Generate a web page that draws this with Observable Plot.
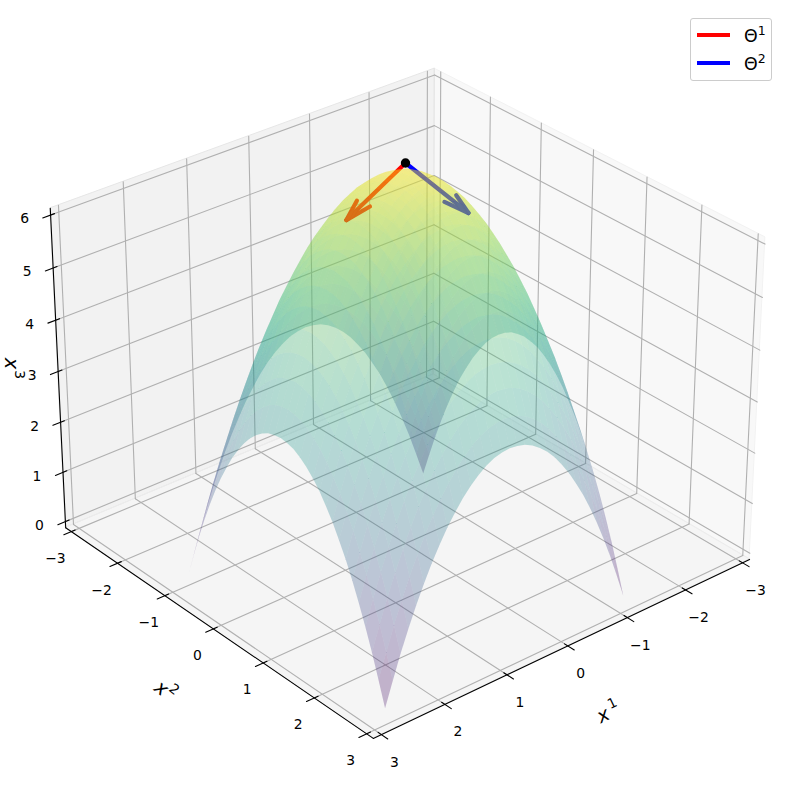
<!DOCTYPE html>
<html>
<head>
<meta charset="utf-8">
<style>
html,body{margin:0;padding:0;background:#fff;}
#wrap{position:relative;width:790px;height:790px;overflow:hidden;}
#legend{position:absolute;left:690px;top:18px;width:82px;height:63px;box-sizing:border-box;background:rgba(255,255,255,.8);border:1px solid #ccc;border-radius:3px;font:17.4px "DejaVu Sans";color:#000;}
#legend .k{position:absolute;left:6px;width:33px;height:4px;}
#legend .t{position:absolute;left:53px;line-height:20px;}
#legend sup{font-size:12.5px;line-height:0;vertical-align:7px;}
</style>
<script src="https://cdn.jsdelivr.net/npm/d3@7"></script>
<script src="https://cdn.jsdelivr.net/npm/@observablehq/plot@0.6"></script>
</head>
<body>
<div id="wrap">
<div id="legend">
<div class="k" style="top:14px;background:#f00"></div><div class="t" style="top:7px">Θ<sup>1</sup></div>
<div class="k" style="top:42px;background:#00f"></div><div class="t" style="top:35px">Θ<sup>2</sup></div>
</div>
</div>
<script>
// Axis ticks
const x1Ticks = [-3,-2,-1,0,1,2,3];
const x2Ticks = [-3,-2,-1,0,1,2,3];
const x3Ticks = [0,1,2,3,4,5,6];
// Surface samples: positions along |x1| (rows) and |x2| (columns), mirrored across both axes
const gridSteps = [0,0.125,0.25,0.375,0.5,0.625,0.75,0.875,1,1.125,1.25,1.375,1.5,1.625,1.75,1.875,2];
const surfaceHeights = [
 [7.00,6.98,6.94,6.86,6.75,6.61,6.44,6.23,6.00,5.73,5.44,5.11,4.75,4.36,3.94,3.48,3.00],
 [6.98,6.96,6.92,6.84,6.73,6.59,6.42,6.21,5.98,5.71,5.42,5.09,4.73,4.34,3.92,3.46,2.98],
 [6.94,6.92,6.88,6.80,6.69,6.55,6.38,6.17,5.94,5.67,5.38,5.05,4.69,4.30,3.88,3.42,2.94],
 [6.86,6.84,6.80,6.72,6.61,6.47,6.30,6.09,5.86,5.59,5.30,4.97,4.61,4.22,3.80,3.34,2.86],
 [6.75,6.73,6.69,6.61,6.50,6.36,6.19,5.98,5.75,5.48,5.19,4.86,4.50,4.11,3.69,3.23,2.75],
 [6.61,6.59,6.55,6.47,6.36,6.22,6.05,5.84,5.61,5.34,5.05,4.72,4.36,3.97,3.55,3.09,2.61],
 [6.44,6.42,6.38,6.30,6.19,6.05,5.88,5.67,5.44,5.17,4.88,4.55,4.19,3.80,3.38,2.92,2.44],
 [6.23,6.21,6.17,6.09,5.98,5.84,5.67,5.46,5.23,4.96,4.67,4.34,3.98,3.59,3.17,2.71,2.23],
 [6.00,5.98,5.94,5.86,5.75,5.61,5.44,5.23,5.00,4.73,4.44,4.11,3.75,3.36,2.94,2.48,2.00],
 [5.73,5.71,5.67,5.59,5.48,5.34,5.17,4.96,4.73,4.46,4.17,3.84,3.48,3.09,2.67,2.21,1.73],
 [5.44,5.42,5.38,5.30,5.19,5.05,4.88,4.67,4.44,4.17,3.88,3.55,3.19,2.80,2.38,1.92,1.44],
 [5.11,5.09,5.05,4.97,4.86,4.72,4.55,4.34,4.11,3.84,3.55,3.22,2.86,2.47,2.05,1.59,1.11],
 [4.75,4.73,4.69,4.61,4.50,4.36,4.19,3.98,3.75,3.48,3.19,2.86,2.50,2.11,1.69,1.23,0.75],
 [4.36,4.34,4.30,4.22,4.11,3.97,3.80,3.59,3.36,3.09,2.80,2.47,2.11,1.72,1.30,0.84,0.36],
 [3.94,3.92,3.88,3.80,3.69,3.55,3.38,3.17,2.94,2.67,2.38,2.05,1.69,1.30,0.88,0.42,-0.06],
 [3.48,3.46,3.42,3.34,3.23,3.09,2.92,2.71,2.48,2.21,1.92,1.59,1.23,0.84,0.42,-0.04,-0.52],
 [3.00,2.98,2.94,2.86,2.75,2.61,2.44,2.23,2.00,1.73,1.44,1.11,0.75,0.36,-0.06,-0.52,-1.00]
];
// Arrows from the marked point
const apex = [0,0,7.23];
const theta1 = [0.58,-0.44,-1.03];
const theta2 = [-0.60,0.49,-0.93];
const arrowHead = 0.3;

// 3D view (azimuth 50, elevation 30)
const lim = 3.125, zLo = -0.125, zHi = 6.125;
const az = 50*Math.PI/180, el = 30*Math.PI/180, dist = 10;
const bx = 1.190, bz = 0.893;
const W = [Math.cos(el)*Math.cos(az), Math.cos(el)*Math.sin(az), Math.sin(el)];
const U = [-Math.sin(az), Math.cos(az), 0];
const V = [W[1]*U[2]-W[2]*U[1], W[2]*U[0]-W[0]*U[2], W[0]*U[1]-W[1]*U[0]];
const dot = (a,b)=>a[0]*b[0]+a[1]*b[1]+a[2]*b[2];
function proj(p){
  const d = [(p[0]/(2*lim))*bx, (p[1]/(2*lim))*bx, ((p[2]-(zLo+zHi)/2)/(zHi-zLo))*bz];
  const k = dist - dot(W,d);
  return {x: dot(U,d)/k, y: dot(V,d)/k, depth: dot(W,d)};
}
let sid = 0;
function seg(a,b){ const s=sid++; return [a,b].map(p=>{const q=proj(p);return {s,x:q.x,y:q.y};}); }

// Panes
function pane(a,b,c,d){ const s=sid++; const A=proj(a),B=proj(b),C=proj(c),D=proj(d);
  return [{s,x1:A.x,y1:A.y,x2:D.x,y2:D.y},{s,x1:B.x,y1:B.y,x2:C.x,y2:C.y}]; }
const paneX = pane([-lim,-lim,zLo],[-lim,lim,zLo],[-lim,lim,zHi],[-lim,-lim,zHi]);
const paneY = pane([-lim,-lim,zLo],[lim,-lim,zLo],[lim,-lim,zHi],[-lim,-lim,zHi]);
const paneZ = pane([-lim,-lim,zLo],[lim,-lim,zLo],[lim,lim,zLo],[-lim,lim,zLo]);

// Grid
const grid = [];
for(const t of x1Ticks){ grid.push(...seg([t,lim,zLo],[t,-lim,zLo]), ...seg([t,-lim,zLo],[t,-lim,zHi])); }
for(const t of x2Ticks){ grid.push(...seg([lim,t,zLo],[-lim,t,zLo]), ...seg([-lim,t,zLo],[-lim,t,zHi])); }
for(const t of x3Ticks){ grid.push(...seg([lim,-lim,t],[-lim,-lim,t]), ...seg([-lim,-lim,t],[-lim,lim,t])); }
// Axis lines and ticks
const axisLines = [
  ...seg([-lim,lim,zLo],[lim,lim,zLo]),
  ...seg([lim,-lim,zLo],[lim,lim,zLo]),
  ...seg([lim,-lim,zLo],[lim,-lim,zHi])
];
const tIn=0.06, tOut=0.12;
for(const t of x1Ticks) axisLines.push(...seg([t,lim-tIn,zLo],[t,lim+tOut,zLo]));
for(const t of x2Ticks) axisLines.push(...seg([lim-tIn,t,zLo],[lim+tOut,t,zLo]));
for(const t of x3Ticks) axisLines.push(...seg([lim-tIn,-lim,t],[lim+tOut,-lim,t]));

const fmt = t => String(t).replace("-","\u2212");
const x1Labels = x1Ticks.map(t=>{const q=proj([t,lim,zLo]);return {x:q.x,y:q.y,t:fmt(t)};});
const x2Labels = x2Ticks.map(t=>{const q=proj([lim,t,zLo]);return {x:q.x,y:q.y,t:fmt(t)};});
const x3Labels = x3Ticks.map(t=>{const q=proj([lim,-lim,t]);return {x:q.x,y:q.y,t:fmt(t)};});

// Surface quads, far to near
const steps = [...gridSteps.slice(1).reverse().map(v=>-v), ...gridSteps];
const mid = gridSteps.length-1;
const zAt = (i,j)=>surfaceHeights[Math.abs(i-mid)][Math.abs(j-mid)];
const quads = [];
for(let i=0;i<steps.length-1;i++)for(let j=0;j<steps.length-1;j++){
  const c=[[i,j],[i+1,j],[i+1,j+1],[i,j+1]].map(([a,b])=>[steps[a],steps[b],zAt(a,b)]);
  const P=c.map(proj);
  quads.push({P,mean:d3.mean(c,p=>p[2]),depth:d3.mean(P,p=>p.depth)});
}
quads.sort((a,b)=>a.depth-b.depth);
const surface = quads.flatMap((q,s)=>[
  {s,mean:q.mean,x1:q.P[0].x,y1:q.P[0].y,x2:q.P[3].x,y2:q.P[3].y},
  {s,mean:q.mean,x1:q.P[1].x,y1:q.P[1].y,x2:q.P[2].x,y2:q.P[2].y}
]);

// Arrow shafts and barbs
function arrow(v){
  const tip=[apex[0]+v[0],apex[1]+v[1],apex[2]+v[2]];
  const n=Math.hypot(v[0],v[1]); const ax=[v[1]/n,-v[0]/n,0];
  const rot=(ang)=>{const c=Math.cos(ang),s=Math.sin(ang);
    const cr=[ax[1]*v[2]-ax[2]*v[1],ax[2]*v[0]-ax[0]*v[2],ax[0]*v[1]-ax[1]*v[0]];
    return [0,1,2].map(i=>v[i]*c+cr[i]*s+ax[i]*dot(ax,v)*(1-c));};
  const barb=(ang)=>{const r=rot(ang);return [tip[0]-arrowHead*r[0],tip[1]-arrowHead*r[1],tip[2]-arrowHead*r[2]];};
  return [...seg(apex,tip),...seg(tip,barb(Math.PI/12)),...seg(tip,barb(-Math.PI/12))];
}
const apexP = proj(apex);

const xc=405, yc=386.2, sxk=4170, syk=4145;
const lp = (p,text,rotate)=>{const q=proj(p);return {x:q.x,y:q.y,text,rotate};};
const xStyle = {x:"x",y:"y",text:"text",rotate:"rotate",fontFamily:"DejaVu Sans",fontStyle:"italic",fontSize:19.5,fill:"#000"};
const supStyle = {x:"x",y:"y",text:"text",rotate:"rotate",fontFamily:"DejaVu Sans",fontSize:13.8,fill:"#000"};
const front=[lim,lim,zLo], side=[lim,-lim,3];

const chart = Plot.plot({
  width:790,height:790,margin:0,
  style:{background:"transparent",overflow:"visible"},
  x:{axis:null,domain:[-xc/sxk,(790-xc)/sxk],range:[0,790]},
  y:{axis:null,domain:[yc/syk,(yc-790)/syk],range:[0,790]},
  color:{type:"linear",scheme:"viridis",domain:[-1,7]},
  marks:[
    Plot.area(paneX,{x1:"x1",y1:"y1",x2:"x2",y2:"y2",z:"s",fill:"#f2f2f2",fillOpacity:0.5,stroke:"#f2f2f2"}),
    Plot.area(paneY,{x1:"x1",y1:"y1",x2:"x2",y2:"y2",z:"s",fill:"#e6e6e6",fillOpacity:0.5,stroke:"#e6e6e6"}),
    Plot.area(paneZ,{x1:"x1",y1:"y1",x2:"x2",y2:"y2",z:"s",fill:"#ececec",fillOpacity:0.5,stroke:"#ececec"}),
    Plot.line(grid,{x:"x",y:"y",z:"s",stroke:"#b0b0b0",strokeWidth:1.1}),
    Plot.line(axisLines,{x:"x",y:"y",z:"s",stroke:"#000",strokeWidth:1.1}),
    Plot.text(x1Labels,{x:"x",y:"y",text:"t",dx:13,dy:27.5,fontFamily:"DejaVu Sans",fontSize:13.9,fill:"#000"}),
    Plot.text(x2Labels,{x:"x",y:"y",text:"t",dx:-16,dy:27,fontFamily:"DejaVu Sans",fontSize:13.9,fill:"#000"}),
    Plot.text(x3Labels,{x:"x",y:"y",text:"t",dx:-26,dy:4,fontFamily:"DejaVu Sans",fontSize:13.9,fill:"#000"}),
    Plot.text([lp(front,"x",-26)],{...xStyle,dx:230,dy:-23}),
    Plot.text([lp(front,"1",-26)],{...supStyle,dx:239,dy:-35}),
    Plot.text([lp(front,"x",38)],{...xStyle,dx:-212,dy:-50}),
    Plot.text([lp(front,"2",38)],{...supStyle,dx:-199,dy:-49}),
    Plot.text([lp(side,"x",90)],{...xStyle,dx:-47,dy:-8}),
    Plot.text([lp(side,"3",90)],{...supStyle,dx:-39,dy:3}),
    Plot.line(arrow(theta1),{x:"x",y:"y",z:"s",stroke:"#f00",strokeWidth:4.2}),
    Plot.line(arrow(theta2),{x:"x",y:"y",z:"s",stroke:"#00f",strokeWidth:4.2}),
    Plot.area(surface,{x1:"x1",y1:"y1",x2:"x2",y2:"y2",z:"s",fill:"mean",fillOpacity:0.3}),
    Plot.dot([apexP],{x:"x",y:"y",r:4.7,fill:"#000"})
  ]
});
document.getElementById("wrap").prepend(chart);
</script>
</body>
</html>
